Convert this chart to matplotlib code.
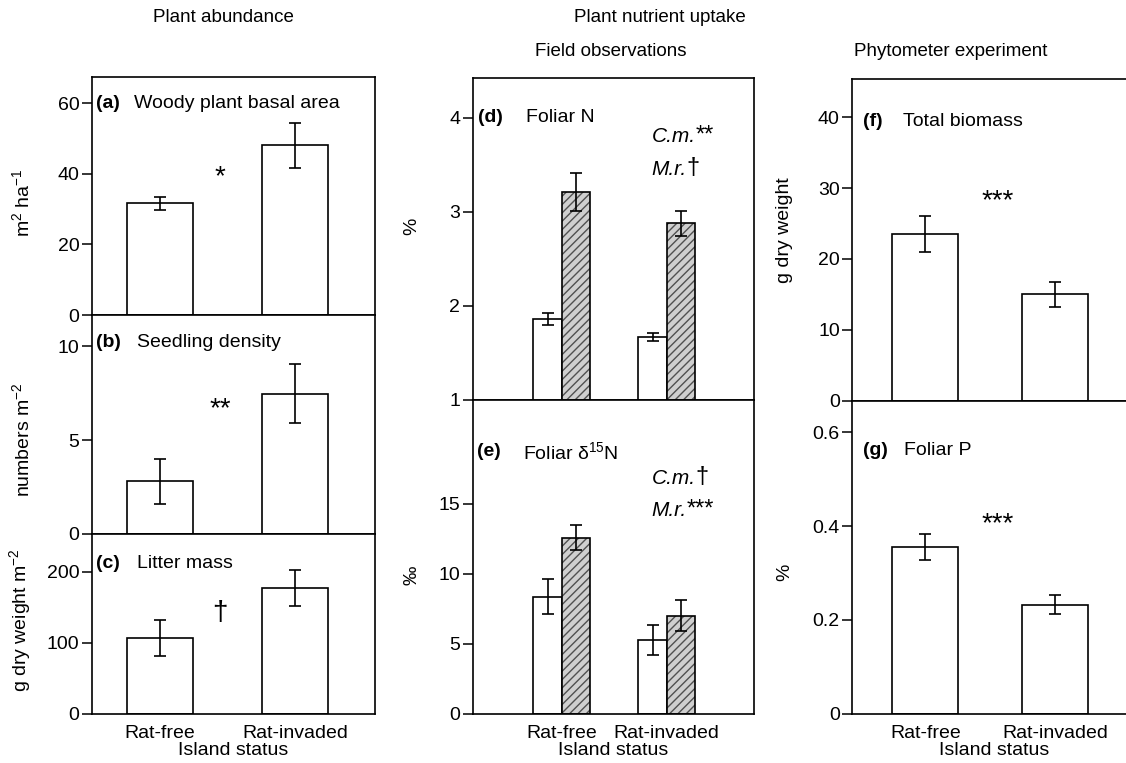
import numpy as np
import matplotlib
matplotlib.use("Agg")
import matplotlib.pyplot as plt
import matplotlib.transforms as mtransforms

plt.rcParams["font.family"] = ["Liberation Sans", "DejaVu Sans"]
plt.rcParams["mathtext.fontset"] = "custom"
plt.rcParams["mathtext.rm"] = "Liberation Sans"
plt.rcParams["mathtext.it"] = "Liberation Sans:italic"
plt.rcParams["mathtext.bf"] = "Liberation Sans:bold"
plt.rcParams["hatch.linewidth"] = 1.0

# island status categories
status = ["Rat-free", "Rat-invaded"]

# plant abundance
basal_area = [31.6, 48.1]
basal_area_se = [1.9, 6.4]
seedlings = [2.8, 7.45]
seedlings_se = [1.2, 1.57]
litter = [106.5, 177.0]
litter_se = [26.0, 25.5]

# field observations, two species (open = C.m., hatched = M.r.)
foliar_n_cm = [1.86, 1.67]
foliar_n_cm_se = [0.065, 0.045]
foliar_n_mr = [3.21, 2.88]
foliar_n_mr_se = [0.20, 0.135]
d15n_cm = [8.35, 5.25]
d15n_cm_se = [1.25, 1.1]
d15n_mr = [12.55, 7.0]
d15n_mr_se = [0.9, 1.12]

# phytometer experiment
biomass = [23.5, 15.0]
biomass_se = [2.5, 1.75]
foliar_p = [0.355, 0.232]
foliar_p_se = [0.028, 0.02]

W, H = 1126, 763
fig = plt.figure(figsize=(W / 100, H / 100), dpi=100)


def make_ax(x0, x1, top, bottom):
    return fig.add_axes([x0 / W, 1 - bottom / H, (x1 - x0) / W, (bottom - top) / H])


FS = 14
STAR = 20
err_kw = dict(ecolor="black", elinewidth=1.2, capsize=4.5, capthick=1.2)


def style(ax, ylim, yticks, xlim, ylabel, ylab_x, ylab_y, show_x=False):
    ax.set_ylim(*ylim)
    ax.set_xlim(*xlim)
    ax.set_yticks(yticks)
    ax.tick_params(axis="y", length=7, width=1.1, pad=2, labelsize=FS)
    ax.tick_params(axis="x", length=0, pad=8, labelsize=FS)
    for s in ax.spines.values():
        s.set_linewidth(1.2)
    ax.set_ylabel(ylabel, fontsize=FS)
    ax.yaxis.set_label_coords(ylab_x, ylab_y)
    if show_x:
        ax.set_xticks([0, 1])
        ax.set_xticklabels(status)
        ax.set_xlabel("Island status", fontsize=FS, labelpad=0)
    else:
        ax.set_xticks([])


def single_bars(ax, vals, err, width):
    ax.bar([0, 1], vals, width=width, color="white", edgecolor="black", linewidth=1.2,
           yerr=err, error_kw=err_kw, zorder=2)


def paired_bars(ax, a, a_err, b, b_err, width):
    x = np.array([0, 1])
    ax.bar(x - width / 2, a, width=width, color="white", edgecolor="black", linewidth=1.2,
           yerr=a_err, error_kw=err_kw, zorder=2)
    ax.bar(x + width / 2, b, width=width, color="#cfcfcf", edgecolor="#505050",
           hatch="////", linewidth=0, zorder=2)
    ax.bar(x + width / 2, b, width=width, fill=False, edgecolor="black", linewidth=1.2,
           yerr=b_err, error_kw=err_kw, zorder=3)


def panel_label(ax, tag, title, y, tx=0.015, ttx=0.15):
    tr = mtransforms.blended_transform_factory(ax.transAxes, ax.transData)
    ax.text(tx, y, tag, transform=tr, fontsize=FS, fontweight="bold", va="center", ha="left")
    ax.text(ttx, y, title, transform=tr, fontsize=FS, va="center", ha="left")


def stars(ax, x, y, s, size=STAR):
    # y is where the middle of the asterisks should sit
    ax.annotate(s, xy=(x, y), xytext=(0, -0.58 * size), textcoords="offset points",
                fontsize=size, ha="center", va="baseline")


def species_note(ax, x, y, sp, sig):
    tr = mtransforms.blended_transform_factory(ax.transAxes, ax.transData)
    t = ax.text(x, y, sp, transform=tr, fontsize=FS + 1, style="italic", va="center", ha="left")
    ax.annotate(sig, xy=(1, 0), xycoords=t, fontsize=FS + 3, va="bottom", ha="left")


# ---- column 1: plant abundance
xl1 = (-0.504, 1.593)
ax_a = make_ax(92, 375, 77, 315)
single_bars(ax_a, basal_area, basal_area_se, 0.49)
style(ax_a, (0, 67.4), [0, 20, 40, 60], xl1, r"m$^2$ ha$^{-1}$", -0.208, 0.47)
panel_label(ax_a, "(a)", "Woody plant basal area", 60)
stars(ax_a, 0.444, 41.6, "*")

ax_b = make_ax(92, 375, 315, 534)
single_bars(ax_b, seedlings, seedlings_se, 0.49)
style(ax_b, (0, 11.65), [0, 5, 10], xl1, r"numbers m$^{-2}$", -0.208, 0.43)
panel_label(ax_b, "(b)", "Seedling density", 10.2, ttx=0.158)
stars(ax_b, 0.444, 7.13, "**")

ax_c = make_ax(92, 375, 534, 713.5)
single_bars(ax_c, litter, litter_se, 0.49)
style(ax_c, (0, 253.5), [0, 100, 200], xl1, r"g dry weight m$^{-2}$", -0.208, 0.52, show_x=True)
panel_label(ax_c, "(c)", "Litter mass", 212, ttx=0.158)
ax_c.text(0.444, 142, "†", fontsize=STAR, ha="center", va="center")

# ---- column 2: field observations
xl2 = (-0.848, 1.834)
ax_d = make_ax(472.7, 754.3, 78, 400)
paired_bars(ax_d, foliar_n_cm, foliar_n_cm_se, foliar_n_mr, foliar_n_mr_se, 0.27)
style(ax_d, (1, 4.425), [1, 2, 3, 4], xl2, "%", -0.187, 0.54)
panel_label(ax_d, "(d)", "Foliar N", 4.0, tx=0.02, ttx=0.188)
species_note(ax_d, 0.636, 3.80, "C.m.", "**")
species_note(ax_d, 0.636, 3.45, "M.r.", "†")

ax_e = make_ax(472.7, 754.3, 400, 713.5)
paired_bars(ax_e, d15n_cm, d15n_cm_se, d15n_mr, d15n_mr_se, 0.27)
style(ax_e, (0, 22.4), [0, 5, 10, 15], xl2, "‰", -0.185, 0.44, show_x=True)
panel_label(ax_e, "(e)", r"Foliar δ$^{15}$N", 18.7, tx=0.016, ttx=0.18)
species_note(ax_e, 0.636, 16.8, "C.m.", "†")
species_note(ax_e, 0.636, 14.5, "M.r.", "***")

# ---- column 3: phytometer experiment
xl3 = (-0.563, 1.617)
ax_f = make_ax(852.3, 1135, 79, 400.7)
single_bars(ax_f, biomass, biomass_se, 0.51)
style(ax_f, (0, 45.4), [0, 10, 20, 30, 40], xl3, "g dry weight", -0.21, 0.53)
panel_label(ax_f, "(f)", "Total biomass", 39.4, tx=0.039, ttx=0.18)
stars(ax_f, 0.555, 29.5, "***")

ax_g = make_ax(852.3, 1135, 400.7, 713.5)
single_bars(ax_g, foliar_p, foliar_p_se, 0.51)
style(ax_g, (0, 0.6675), [0, 0.2, 0.4, 0.6], xl3, "%", -0.21, 0.45, show_x=True)
ax_g.set_yticklabels(["0", "0.2", "0.4", "0.6"])
panel_label(ax_g, "(g)", "Foliar P", 0.562, tx=0.037, ttx=0.183)
stars(ax_g, 0.555, 0.4235, "***")

# ---- headers
fig.text(223 / W, 1 - 18 / H, "Plant abundance", fontsize=13.5, ha="center", va="center")
fig.text(660 / W, 1 - 18 / H, "Plant nutrient uptake", fontsize=13.5, ha="center", va="center")
fig.text(611 / W, 1 - 52 / H, "Field observations", fontsize=13.5, ha="center", va="center")
fig.text(951 / W, 1 - 52 / H, "Phytometer experiment", fontsize=13.5, ha="center", va="center")

fig.savefig("out.png", dpi=100)
